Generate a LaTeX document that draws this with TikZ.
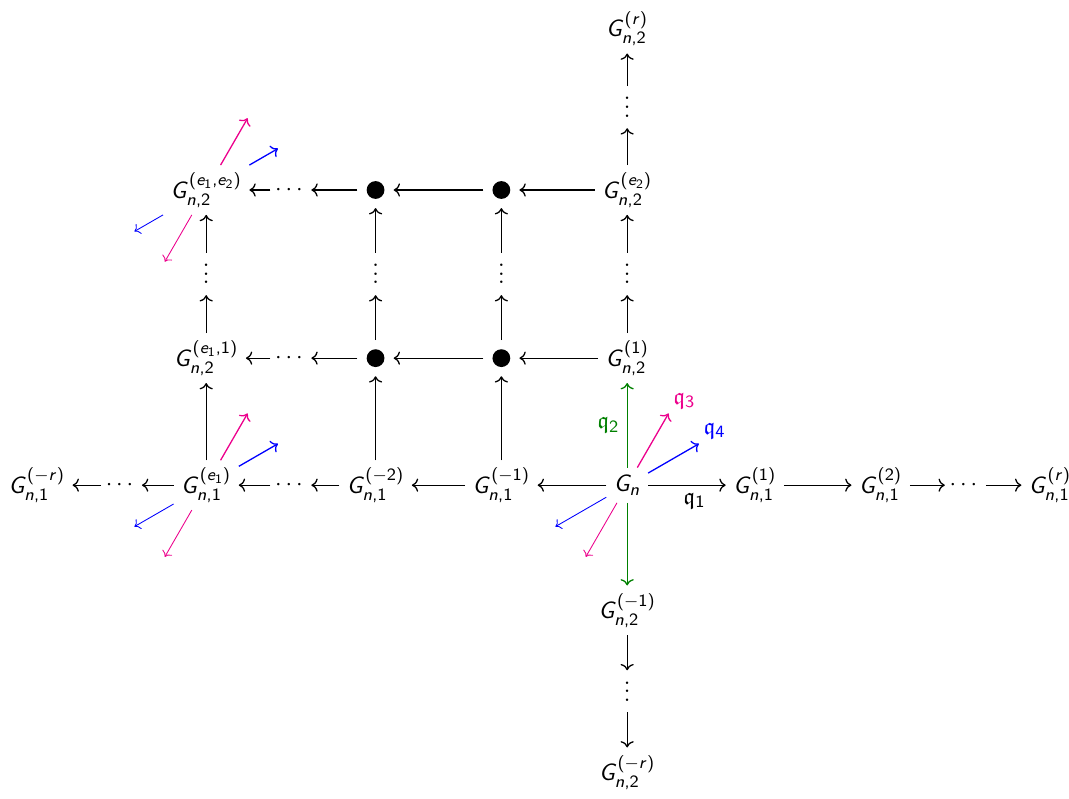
\documentclass[tikz,border=0pt]{standalone}
\usepackage{amsmath,amssymb}
\usetikzlibrary{arrows.meta, positioning, calc}
\definecolor{qtwocol}{HTML}{008000}
\definecolor{qthreecol}{HTML}{EC008C}
\definecolor{qfourcol}{HTML}{0000FF}
% sans serif letters and digits in math
\DeclareSymbolFont{sfit}{OT1}{cmss}{m}{sl}
\DeclareSymbolFont{sfup}{OT1}{cmss}{m}{n}
\DeclareMathSymbol{G}{\mathalpha}{sfit}{`G}
\DeclareMathSymbol{n}{\mathalpha}{sfit}{`n}
\DeclareMathSymbol{e}{\mathalpha}{sfit}{`e}
\DeclareMathSymbol{r}{\mathalpha}{sfit}{`r}
\DeclareMathSymbol{0}{\mathalpha}{sfup}{`0}
\DeclareMathSymbol{1}{\mathalpha}{sfup}{`1}
\DeclareMathSymbol{2}{\mathalpha}{sfup}{`2}
\DeclareMathSymbol{3}{\mathalpha}{sfup}{`3}
\DeclareMathSymbol{4}{\mathalpha}{sfup}{`4}
\DeclareMathSymbol{(}{\mathopen}{sfup}{`(}
\DeclareMathSymbol{)}{\mathclose}{sfup}{`)}
\DeclareMathSymbol{,}{\mathpunct}{sfup}{`,}
% vertical dots without the kern on top
\newcommand{\vdts}{\vbox{\baselineskip4pt\lineskiplimit0pt\hbox{.}\hbox{.}\hbox{.}}}

\begin{document}
\begin{tikzpicture}[
  on grid,
  every node/.append style={font=\fontsize{10.95}{13}\selectfont},
  bul/.style={circle, fill, inner sep=0pt, minimum size=0.29cm, outer sep=0.15cm},
  vdt/.style={inner xsep=2pt, inner ysep=5pt},
  hdt/.style={inner xsep=2pt},
  conn/.style={-{Computer Modern Rightarrow}, line width=0.6pt},
  gconn/.style={conn, draw=qtwocol},
  upconn/.style={-{Computer Modern Rightarrow}, line width=0.6pt},
  dnconn/.style={-{Computer Modern Rightarrow}, line width=0.4pt},
  lab/.style={inner sep=2pt},
]
\useasboundingbox (0,0) rectangle (17.42,-13.01);

% G_n in the middle of the bottom row
\node (Gn) at (10.22,-7.906) {$G_n$};

% first row, to the left
\node[left=2.05cm of Gn] (gm1) {$G^{(-1)}_{n,1}$};
\node[left=2.05cm of gm1] (gm2) {$G^{(-2)}_{n,1}$};
\node[hdt, left=1.38cm of gm2] (hdA) {$\cdots$};
\node[left=1.38cm of hdA] (ge1) {$G^{(e_1)}_{n,1}$};
\node[hdt, left=1.38cm of ge1] (hdB) {$\cdots$};
\node[left=1.38cm of hdB] (gmr) {$G^{(-r)}_{n,1}$};

% first row, to the right
\node[right=2.08cm of Gn] (gp1) {$G^{(1)}_{n,1}$};
\node[right=2.05cm of gp1] (gp2) {$G^{(2)}_{n,1}$};
\node[hdt, right=1.38cm of gp2] (hdC) {$\cdots$};
\node[right=1.38cm of hdC] (gpr) {$G^{(r)}_{n,1}$};

% column above and below G_n
\node[above=2.07cm of Gn] (g21) {$G^{(1)}_{n,2}$};
\node[vdt, above=1.37cm of g21] (vdA) {\vdts};
\node[above=1.37cm of vdA] (ge2) {$G^{(e_2)}_{n,2}$};
\node[vdt, above=1.35cm of ge2] (vdB) {\vdts};
\node[above=1.28cm of vdB] (g2r) {$G^{(r)}_{n,2}$};
\node[below=2.04cm of Gn] (g2m1) {$G^{(-1)}_{n,2}$};
\node[vdt, below=1.32cm of g2m1] (vdC) {\vdts};
\node[below=1.32cm of vdC] (g2mr) {$G^{(-r)}_{n,2}$};

% second row
\node[bul, left=2.05cm of g21] (bB1) {};
\node[bul, left=2.05cm of bB1] (bA1) {};
\node[hdt, left=1.38cm of bA1] (hdD) {$\cdots$};
\node[left=1.38cm of hdD] (ge11) {$G^{(e_1,1)}_{n,2}$};

% third row
\node[bul, left=2.05cm of ge2] (bB2) {};
\node[bul, left=2.05cm of bB2] (bA2) {};
\node[hdt, left=1.38cm of bA2] (hdE) {$\cdots$};
\node[left=1.38cm of hdE] (ge12) {$G^{(e_1,e_2)}_{n,2}$};

% vertical dots between second and third row
\node[vdt, above=1.37cm of ge11] (vdE) {\vdts};
\node[vdt, above=1.37cm of bA1] (vdF) {\vdts};
\node[vdt, above=1.37cm of bB1] (vdG) {\vdts};

% horizontal arrows
\draw[conn] (Gn) -- (gm1);
\draw[conn] (gm1) -- (gm2);
\draw[conn] (gm2) -- (hdA);
\draw[conn] (hdA) -- (ge1);
\draw[conn] (ge1) -- (hdB);
\draw[conn] (hdB) -- (gmr);
\draw[conn] (Gn) -- node[below, pos=0.6] {$\mathfrak{q}_1$} (gp1);
\draw[conn] (gp1) -- (gp2);
\draw[conn] (gp2) -- (hdC);
\draw[conn] (hdC) -- (gpr);
\draw[conn] (g21) -- (bB1);
\draw[conn] (bB1) -- (bA1);
\draw[conn] (bA1) -- (hdD);
\draw[conn] (hdD) -- (ge11);
\draw[conn] (ge2) -- (bB2);
\draw[conn] (bB2) -- (bA2);
\draw[conn] (bA2) -- (hdE);
\draw[conn] (hdE) -- (ge12);

% vertical arrows
\draw[gconn] (Gn) -- node[left, text=qtwocol] {$\mathfrak{q}_2$} (g21);
\draw[gconn] (Gn) -- (g2m1);
\draw[conn] (g2m1) -- (vdC);
\draw[conn] (vdC) -- (g2mr);
\draw[conn] (g21) -- (vdA);
\draw[conn] (vdA) -- (ge2);
\draw[conn] (ge2) -- (vdB);
\draw[conn] (vdB) -- (g2r);
\draw[conn] (ge1) -- (ge11);
\draw[conn] (ge11) -- (vdE);
\draw[conn] (vdE) -- (ge12);
\draw[conn] (gm2) -- (bA1);
\draw[conn] (bA1) -- (vdF);
\draw[conn] (vdF) -- (bA2);
\draw[conn] (gm1) -- (bB1);
\draw[conn] (bB1) -- (vdG);
\draw[conn] (vdG) -- (bB2);

% diagonal arrows at G_n
\draw[upconn, qthreecol] (Gn.60) -- ($(Gn.center)+(60:1.35cm)$)
  node[above right, lab, text=qthreecol] {$\mathfrak{q}_3$};
\draw[upconn, qfourcol] (Gn.30) -- ($(Gn.center)+(30:1.35cm)$)
  node[above right, lab, text=qfourcol] {$\mathfrak{q}_4$};
\draw[dnconn, qfourcol] (Gn.210) -- ($(Gn.center)+(210:1.35cm)$);
\draw[dnconn, qthreecol] (Gn.240) -- ($(Gn.center)+(240:1.35cm)$);

% diagonal arrows at G^{(e_1)}_{n,1}
\draw[upconn, qthreecol] (ge1.60) -- ($(ge1.center)+(60:1.35cm)$);
\draw[upconn, qfourcol] (ge1.30) -- ($(ge1.center)+(30:1.35cm)$);
\draw[dnconn, qfourcol] (ge1.210) -- ($(ge1.center)+(210:1.35cm)$);
\draw[dnconn, qthreecol] (ge1.240) -- ($(ge1.center)+(240:1.35cm)$);

% diagonal arrows at G^{(e_1,e_2)}_{n,2}
\draw[upconn, qthreecol] (ge12.60) -- ($(ge12.center)+(60:1.35cm)$);
\draw[upconn, qfourcol] (ge12.30) -- ($(ge12.center)+(30:1.35cm)$);
\draw[dnconn, qfourcol] (ge12.210) -- ($(ge12.center)+(210:1.35cm)$);
\draw[dnconn, qthreecol] (ge12.240) -- ($(ge12.center)+(240:1.35cm)$);

\end{tikzpicture}
\end{document}
